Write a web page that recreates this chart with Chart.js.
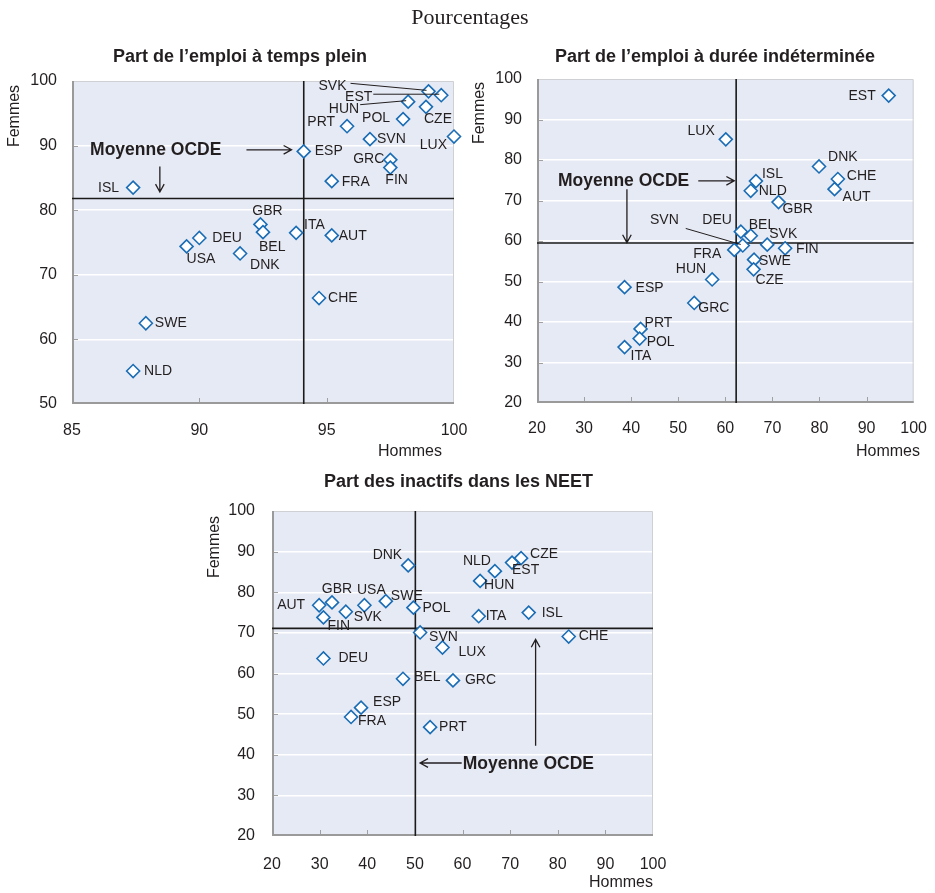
<!DOCTYPE html>
<html lang="fr">
<head>
<meta charset="utf-8">
<title>Pourcentages</title>
<script src="https://cdn.jsdelivr.net/npm/chart.js@4.4.1/dist/chart.umd.min.js"></script>
<style>
  html, body { margin: 0; padding: 0; background: #fff; }
  #wrap { position: relative; width: 935px; height: 893px; }
  #wrap canvas { position: absolute; left: 0; top: 0; }
</style>
</head>
<body>
<div id="wrap">
  <canvas id="c1" width="935" height="893"></canvas>
  <canvas id="c2" width="935" height="893"></canvas>
  <canvas id="c3" width="935" height="893"></canvas>
</div>
<script>
// --- data: Part de l'emploi a temps plein (Hommes = x, Femmes = y)
const codes1  = ['SVK','EST','HUN','CZE','POL','PRT','SVN','LUX','ESP','GRC','FIN','FRA','ISL','GBR','BEL','ITA','AUT','DEU','USA','DNK','CHE','SWE','NLD'];
const hommes1 = [99.0, 99.5, 98.2, 98.9, 98.0, 95.8, 96.7, 100.0, 94.1, 97.5, 97.5, 95.2, 87.4, 92.4, 92.5, 93.8, 95.2, 90.0, 89.5, 91.6, 94.7, 87.9, 87.4];
const femmes1 = [98.4, 97.8, 96.8, 96.0, 94.1, 93.0, 91.0, 91.4, 89.1, 87.8, 86.6, 84.5, 83.5, 77.8, 76.6, 76.5, 76.1, 75.7, 74.4, 73.3, 66.4, 62.5, 55.1];
const mean1   = [94.1, 81.8];

// --- data: Part de l'emploi a duree indeterminee
const codes2  = ['EST','LUX','DNK','CHE','AUT','ISL','NLD','GBR','DEU','BEL','SVK','FIN','SVN','FRA','SWE','CZE','HUN','ESP','GRC','PRT','POL','ITA'];
const hommes2 = [94.7, 60.1, 79.9, 83.9, 83.2, 66.5, 65.4, 71.3, 63.3, 65.4, 68.9, 72.7, 63.7, 61.9, 66.1, 66.0, 57.2, 38.6, 53.4, 42.0, 41.8, 38.6];
const femmes2 = [95.9, 85.1, 78.4, 75.3, 72.8, 74.8, 72.4, 69.6, 62.3, 61.3, 59.1, 58.2, 58.9, 57.8, 55.4, 53.0, 50.5, 48.6, 44.7, 38.3, 35.9, 33.8];
const mean2   = [62.3, 59.5];

// --- data: Part des inactifs dans les NEET
const codes3  = ['DNK','NLD','EST','CZE','HUN','AUT','GBR','USA','SWE','SVK','FIN','POL','ITA','ISL','SVN','LUX','CHE','DEU','BEL','GRC','ESP','FRA','PRT'];
const hommes3 = [48.6, 66.8, 70.4, 72.3, 63.7, 29.9, 32.6, 39.4, 43.9, 35.5, 30.8, 49.7, 63.4, 73.9, 51.1, 55.8, 82.3, 30.8, 47.5, 58.0, 38.7, 36.6, 53.2];
const femmes3 = [86.6, 85.2, 87.3, 88.4, 82.8, 76.8, 77.5, 76.8, 77.8, 75.2, 73.8, 76.2, 74.1, 75.0, 70.1, 66.4, 69.1, 63.7, 58.7, 58.3, 51.6, 49.3, 46.8];
const mean3   = [50.1, 71.1];

// --- label placement (px offsets from the marker: dx, dy, align, optional leader start)
const labels1 = {
  SVK: [-82, -5, 'right', [-78, -8]], EST: [-69, 2, 'right', [-68, -1]], HUN: [-49, 7.5, 'right', [-48, 3]],
  CZE: [-2, 12, 'left'], POL: [-13, -1, 'right'], PRT: [-12, -4, 'right'], SVN: [7, 0, 'left'],
  LUX: [-7, 9, 'right'], ESP: [11, 0, 'left'], GRC: [-6, -1, 'right'], FIN: [-5, 13, 'left'],
  FRA: [10, 1, 'left'], ISL: [-14, 1, 'right'], GBR: [7, -13, 'center'], BEL: [-4, 15, 'left'],
  ITA: [8, -8, 'left'], AUT: [7, 1, 'left'], DEU: [13, 0, 'left'], USA: [0, 13, 'left'],
  DNK: [10, 12, 'left'], CHE: [9, 0, 'left'], SWE: [9, 0, 'left'], NLD: [11, 0, 'left']
};
const labels2 = {
  EST: [-13, 1, 'right'], LUX: [-11, -8, 'right'], DNK: [9, -9, 'left'], CHE: [9, -3, 'left'],
  AUT: [8, 8, 'left'], ISL: [6, -7, 'left'], NLD: [8, 0, 'left'], GBR: [4, 7, 'left'],
  DEU: [-9, -12, 'right'], BEL: [-2, -11, 'left'], SVK: [2, -11, 'left'], FIN: [11, 1, 'left'],
  SVN: [-64, -25, 'right', [-57, -17]], FRA: [-13, 4, 'right'], SWE: [5, 2, 'left'], CZE: [2, 11, 'left'],
  HUN: [-6, -10, 'right'], ESP: [11, 1, 'left'], GRC: [4, 5, 'left'], PRT: [4, -6, 'left'],
  POL: [7, 4, 'left'], ITA: [6, 9, 'left']
};
const labels3 = {
  DNK: [-6, -10, 'right'], NLD: [-4, -10, 'right'], EST: [0, 8, 'left'], CZE: [9, -4, 'left'],
  HUN: [4, 4, 'left'], AUT: [-14, 0, 'right'], GBR: [5, -13, 'center'], USA: [7, -15, 'center'],
  SWE: [5, -5, 'left'], SVK: [8, 5, 'left'], FIN: [4, 9, 'left'], POL: [9, 0, 'left'],
  ITA: [7, 0, 'left'], ISL: [13, 1, 'left'], SVN: [9, 5, 'left'], LUX: [16, 5, 'left'],
  CHE: [10, 0, 'left'], DEU: [15, 0, 'left'], BEL: [11, -2, 'left'], GRC: [12, 0, 'left'],
  ESP: [12, -5, 'left'], FRA: [7, 4, 'left'], PRT: [9, 0, 'left']
};

const BLUE = '#1a6db5';
const INK = '#231f20';
const SANS = '"Liberation Sans", Arial, sans-serif';

// background, frame, inward ticks, texts, arrows
const panelDecor = {
  id: 'panelDecor',
  beforeDraw(chart) {
    const { ctx, chartArea: a } = chart;
    ctx.save();
    ctx.fillStyle = '#e6eaf4';
    ctx.fillRect(a.left, a.top, a.right - a.left, a.bottom - a.top);
    ctx.restore();
  },
  beforeDatasetsDraw(chart) {
    const { ctx, chartArea: a, scales } = chart;
    ctx.save();
    // inward ticks
    ctx.strokeStyle = '#a0a0a0';
    ctx.lineWidth = 1;
    scales.x.ticks.slice(1, -1).forEach(t => {
      const px = Math.round(scales.x.getPixelForValue(t.value)) + 0.5;
      ctx.beginPath(); ctx.moveTo(px, a.bottom); ctx.lineTo(px, a.bottom - 6); ctx.stroke();
    });
    scales.y.ticks.slice(1, -1).forEach(t => {
      const py = Math.round(scales.y.getPixelForValue(t.value)) + 0.5;
      ctx.beginPath(); ctx.moveTo(a.left, py); ctx.lineTo(a.left + 6, py); ctx.stroke();
    });
    // frame
    ctx.strokeStyle = '#cfd0d4';
    ctx.beginPath();
    ctx.moveTo(a.left, a.top + 0.5); ctx.lineTo(a.right - 0.5, a.top + 0.5); ctx.lineTo(a.right - 0.5, a.bottom);
    ctx.stroke();
    ctx.strokeStyle = '#9a9a9a';
    ctx.lineWidth = 2;
    ctx.beginPath();
    ctx.moveTo(a.left + 1, a.top); ctx.lineTo(a.left + 1, a.bottom - 1); ctx.lineTo(a.right, a.bottom - 1);
    ctx.stroke();
    ctx.restore();
  },
  afterDraw(chart, args, o) {
    const { ctx, scales } = chart;
    ctx.save();
    ctx.fillStyle = INK;
    ctx.strokeStyle = INK;

    if (o.supTitle) {
      ctx.font = '22px "Liberation Serif", "Times New Roman", serif';
      ctx.textAlign = 'center';
      ctx.textBaseline = 'alphabetic';
      ctx.fillText(o.supTitle.text, o.supTitle.x, o.supTitle.y);
    }

    // panel title
    ctx.font = 'bold 18px ' + SANS;
    ctx.textAlign = 'center';
    ctx.textBaseline = 'alphabetic';
    ctx.fillText(o.title.text, o.title.x, o.title.y);

    // axis titles
    ctx.font = '16px ' + SANS;
    ctx.textBaseline = 'middle';
    ctx.textAlign = 'right';
    ctx.fillText('Hommes', o.hommes.x, o.hommes.y);
    ctx.save();
    ctx.translate(o.femmes.x, o.femmes.y);
    ctx.rotate(-Math.PI / 2);
    ctx.textAlign = 'center';
    ctx.fillText('Femmes', 0, 0);
    ctx.restore();

    // country labels
    const meta = chart.getDatasetMeta(0);
    const pts = chart.data.datasets[0].data;
    ctx.font = '14px ' + SANS;
    ctx.textBaseline = 'middle';
    ctx.lineWidth = 1;
    meta.data.forEach((el, i) => {
      const code = pts[i].code;
      const lp = o.labels[code];
      if (!lp) return;
      ctx.textAlign = lp[2];
      ctx.fillText(code, el.x + lp[0], el.y + lp[1]);
      if (lp[3]) {
        ctx.beginPath();
        ctx.moveTo(el.x + lp[3][0], el.y + lp[3][1]);
        ctx.lineTo(el.x - 2, el.y - 1);
        ctx.stroke();
      }
    });

    // "Moyenne OCDE" note and arrows
    const nt = o.note;
    ctx.font = 'bold 17.5px ' + SANS;
    ctx.textAlign = 'left';
    ctx.fillText('Moyenne OCDE', scales.x.getPixelForValue(nt.x), scales.y.getPixelForValue(nt.y));
    ctx.lineWidth = 1.3;
    nt.arrows.forEach(ar => {
      const x0 = scales.x.getPixelForValue(ar[0][0]), y0 = scales.y.getPixelForValue(ar[0][1]);
      const x1 = scales.x.getPixelForValue(ar[1][0]), y1 = scales.y.getPixelForValue(ar[1][1]);
      const ang = Math.atan2(y1 - y0, x1 - x0);
      ctx.beginPath();
      ctx.moveTo(x0, y0); ctx.lineTo(x1, y1);
      ctx.moveTo(x1 - 9 * Math.cos(ang - 0.5), y1 - 9 * Math.sin(ang - 0.5));
      ctx.lineTo(x1, y1);
      ctx.lineTo(x1 - 9 * Math.cos(ang + 0.5), y1 - 9 * Math.sin(ang + 0.5));
      ctx.stroke();
    });
    ctx.restore();
  }
};

function makePanel(id, p) {
  const points = p.codes.map((c, i) => ({ x: p.hommes[i], y: p.femmes[i], code: c }));
  const lineStyle = { type: 'line', borderColor: '#1a1a1a', borderWidth: 1.6, pointRadius: 0, showLine: true, clip: false, order: 1 };
  return new Chart(document.getElementById(id), {
    type: 'scatter',
    data: {
      datasets: [{
        data: points,
        pointStyle: 'rectRot',
        pointRadius: 6.5,
        pointHoverRadius: 6.5,
        pointBorderWidth: 1.6,
        pointBorderColor: BLUE,
        pointBackgroundColor: '#ffffff',
        clip: false,
        order: 0
      },
      Object.assign({ data: [{ x: p.x[0], y: p.mean[1] }, { x: p.x[1], y: p.mean[1] }] }, lineStyle),
      Object.assign({ data: [{ x: p.mean[0], y: p.y[0] }, { x: p.mean[0], y: p.y[1] }] }, lineStyle)]
    },
    options: {
      responsive: false,
      animation: false,
      devicePixelRatio: 1,
      events: [],
      layout: { padding: p.padding },
      plugins: {
        legend: { display: false },
        tooltip: { enabled: false },
        panelDecor: p.decor
      },
      scales: {
        x: {
          type: 'linear', min: p.x[0], max: p.x[1],
          ticks: { stepSize: p.x[2], padding: p.xPad, color: INK, font: { family: SANS, size: 16 } },
          grid: { display: false },
          border: { display: false },
          afterFit: s => { s.height = 40; }
        },
        y: {
          type: 'linear', min: p.y[0], max: p.y[1],
          ticks: { stepSize: p.y[2], padding: p.yPad, color: INK, font: { family: SANS, size: 16 } },
          grid: { color: '#ffffff', lineWidth: 1.5, drawTicks: false },
          border: { display: false },
          afterFit: s => { s.width = 60; }
        }
      }
    },
    plugins: [panelDecor]
  });
}

makePanel('c1', {
  codes: codes1, hommes: hommes1, femmes: femmes1, mean: mean1,
  x: [85, 100, 5], y: [50, 100, 10], xPad: 9, yPad: 15,
  padding: { left: 12, top: 81, right: 481, bottom: 449 },
  decor: {
    supTitle: { text: 'Pourcentages', x: 470, y: 23.5 },
    title: { text: 'Part de l’emploi à temps plein', x: 240, y: 61.5 },
    femmes: { x: 15, y: 116 }, hommes: { x: 442, y: 452 },
    labels: labels1,
    note: { x: 85.71, y: 89.35, arrows: [[[91.85, 89.35], [93.62, 89.35]], [[88.45, 86.77], [88.45, 82.82]]] }
  }
});

makePanel('c2', {
  codes: codes2, hommes: hommes2, femmes: femmes2, mean: mean2,
  x: [20, 100, 10], y: [20, 100, 10], xPad: 8, yPad: 15,
  padding: { left: 477, top: 79, right: 16, bottom: 450 },
  decor: {
    title: { text: 'Part de l’emploi à durée indéterminée', x: 715, y: 61.5 },
    femmes: { x: 480, y: 113 }, hommes: { x: 920, y: 452 },
    labels: labels2,
    note: { x: 24.46, y: 74.85, arrows: [[[54.25, 74.85], [61.9, 74.85]], [[39.1, 72.8], [39.1, 59.6]]] }
  }
});

makePanel('c3', {
  codes: codes3, hommes: hommes3, femmes: femmes3, mean: mean3,
  x: [20, 100, 10], y: [20, 100, 10], xPad: 11, yPad: 17,
  padding: { left: 212, top: 511, right: 282, bottom: 17 },
  decor: {
    title: { text: 'Part des inactifs dans les NEET', x: 458.5, y: 486.5 },
    femmes: { x: 215, y: 547 }, hommes: { x: 653, y: 883 },
    labels: labels3,
    note: { x: 60.04, y: 37.8, arrows: [[[59.83, 37.97], [51.1, 37.97]], [[75.35, 42.2], [75.35, 68.4]]] }
  }
});
</script>
</body>
</html>
